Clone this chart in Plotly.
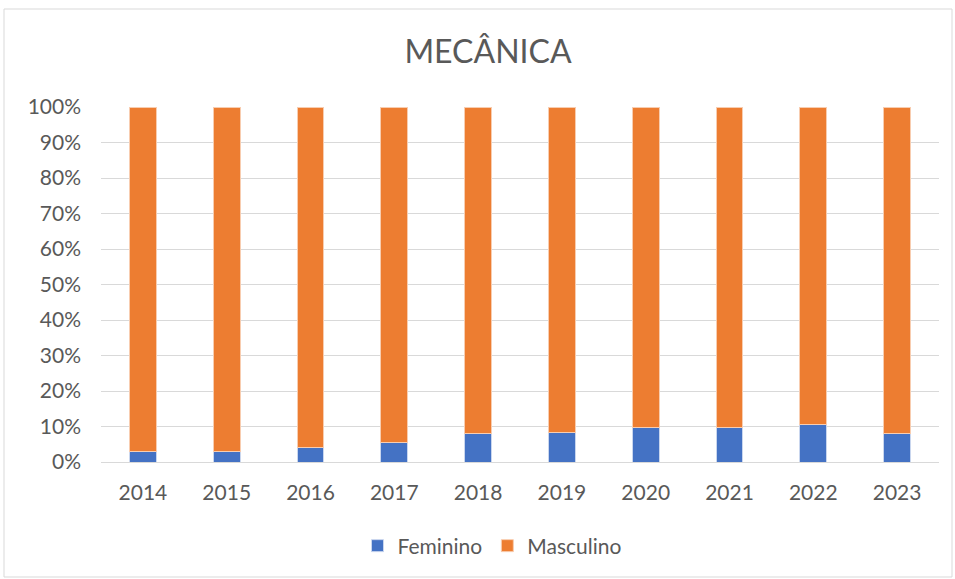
import plotly.graph_objects as go

years = ["2014", "2015", "2016", "2017", "2018", "2019", "2020", "2021", "2022", "2023"]
feminino = [3.1, 2.9, 4.0, 5.6, 8.1, 8.4, 9.6, 9.7, 10.5, 7.9]
masculino = [96.9, 97.1, 96.0, 94.4, 91.9, 91.6, 90.4, 90.3, 89.5, 92.1]
y_ticks = [0, 10, 20, 30, 40, 50, 60, 70, 80, 90, 100]
y_labels = [f"{v}%" for v in y_ticks]

FONT = "Lato, 'Noto Sans', sans-serif"
GRAY = "#595959"

fig = go.Figure()
fig.add_trace(go.Bar(name="Feminino", x=years, y=feminino, marker=dict(color="#4472C4", line=dict(color="#c9d6ee", width=1))))
fig.add_trace(go.Bar(name="Masculino", x=years, y=masculino, marker=dict(color="#ED7D31", line=dict(color="#f8cdb0", width=1))))

L, R, T, B = 101, 16, 107, 117
W, H = 955, 579
pw, ph = W - L - R, H - T - B

fig.update_layout(
    barmode="stack",
    bargap=0.68,
    width=W, height=H,
    margin=dict(l=L, r=R, t=T, b=B),
    paper_bgcolor="white", plot_bgcolor="white",
    font=dict(family=FONT, color=GRAY, size=21),
    title=dict(text="MECÂNICA", x=488 / W, y=1 - 52 / H, xanchor="center", yanchor="middle",
               font=dict(size=32, color=GRAY, family=FONT)),
    legend=dict(orientation="h", x=(492 - L) / pw, y=(462 - 546) / ph, xanchor="center", yanchor="middle",
                font=dict(size=21, color=GRAY), traceorder="normal", itemwidth=30),
    xaxis=dict(showgrid=False, showline=False, ticks="", tickfont=dict(size=21, color=GRAY),
               ticklabelstandoff=16),
    yaxis=dict(range=[0, 100], tickvals=y_ticks, ticktext=y_labels, showgrid=True, gridcolor="#d9d9d9",
               gridwidth=1, zeroline=True, zerolinecolor="#d9d9d9", zerolinewidth=1, ticks="",
               tickfont=dict(size=21, color=GRAY), ticklabelstandoff=19),
    shapes=[dict(type="rect", xref="paper", yref="paper",
                 x0=(4 - L) / pw, x1=(952 - L) / pw, y0=(462 - 577) / ph, y1=(462 - 9) / ph,
                 line=dict(color="#d9d9d9", width=1), fillcolor="rgba(0,0,0,0)", layer="below")],
)
fig.write_html("out.html", config={"displayModeBar": False})

with open("out.html", "r", encoding="utf-8") as f:
    html = f.read()
html = html.replace("<head>", "<head><style>html,body{margin:0;padding:0;overflow:hidden;}</style>", 1)
with open("out.html", "w", encoding="utf-8") as f:
    f.write(html)
